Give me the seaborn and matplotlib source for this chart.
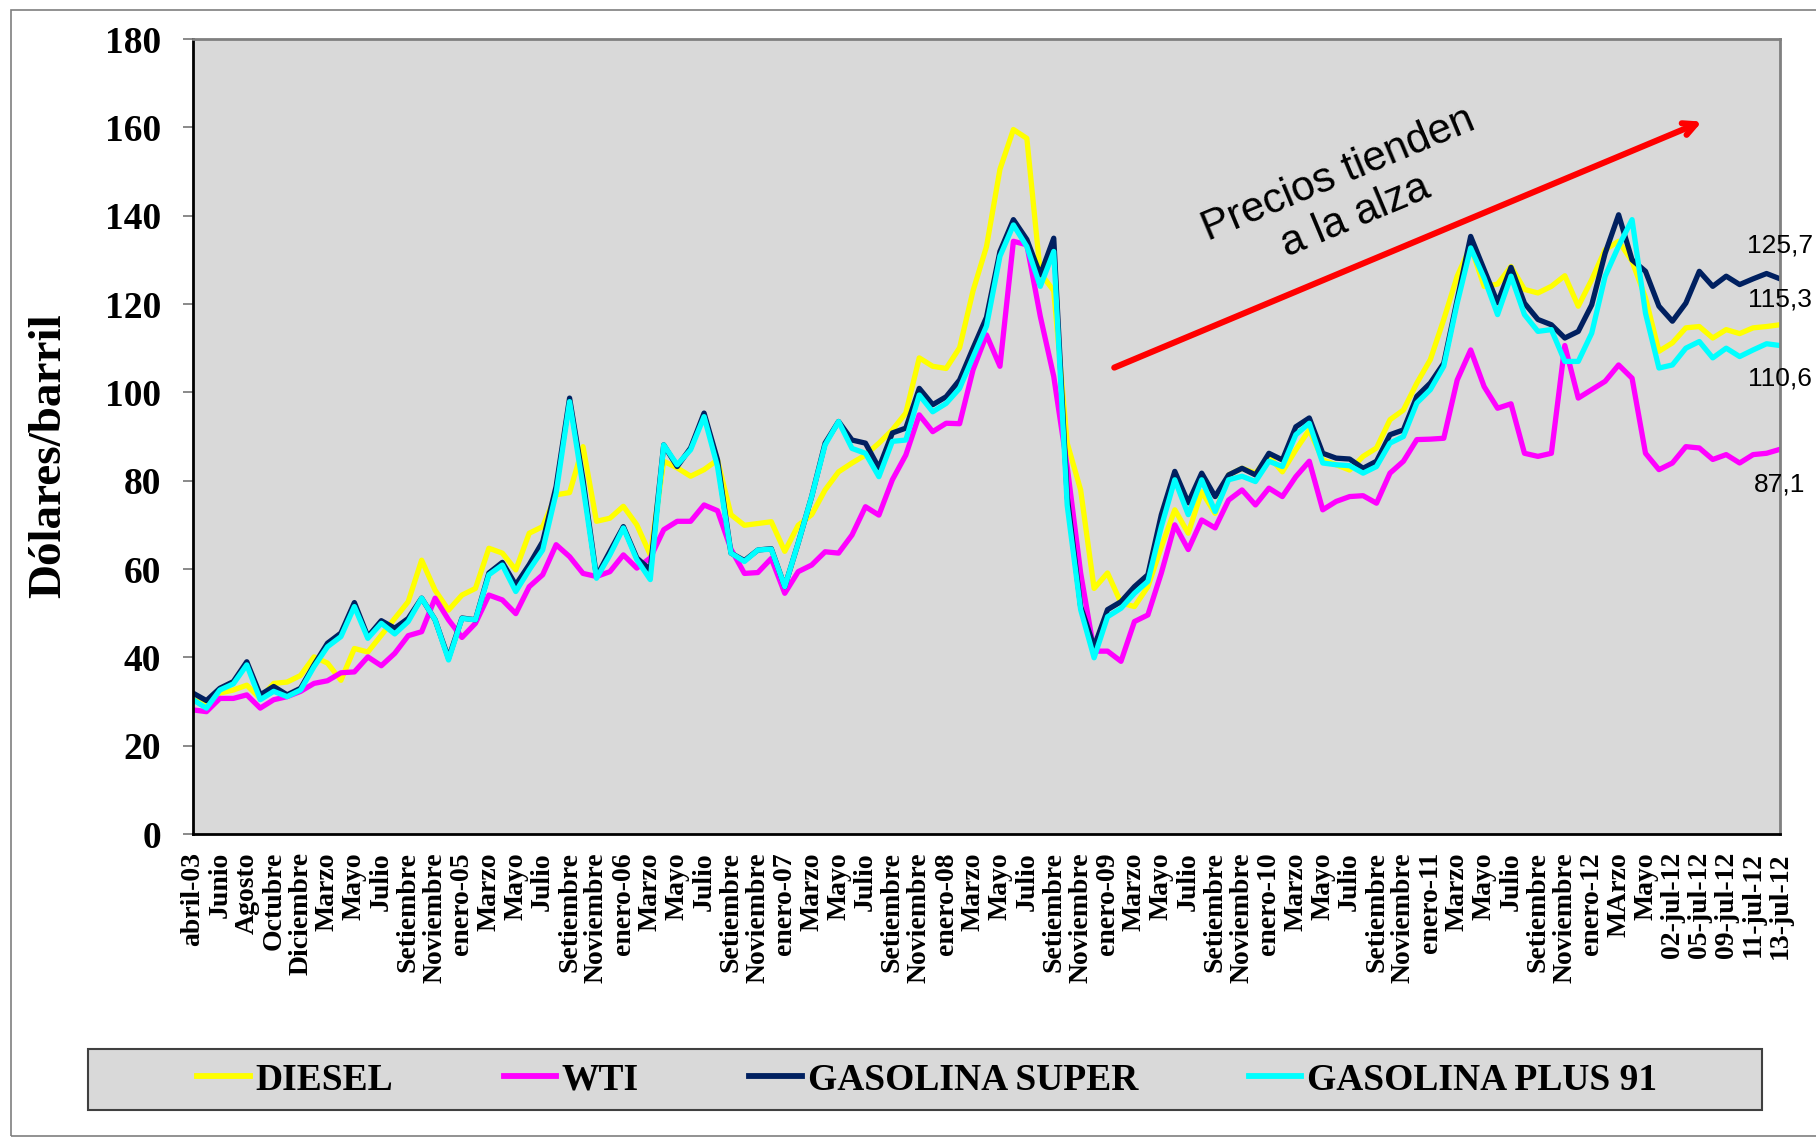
import matplotlib
matplotlib.use("Agg")
import matplotlib.pyplot as plt
import numpy as np
import pandas as pd
import seaborn as sns
from matplotlib.patches import Rectangle
from matplotlib.lines import Line2D

# ---------------- data ----------------
categories = [
    "abril-03", "Mayo", "Junio", "Julio", "Agosto", "Setiembre", "Octubre", "Noviembre", "Diciembre",
    "Febrero", "Marzo", "Abril", "Mayo", "Junio", "Julio", "Agosto", "Setiembre", "Octubre", "Noviembre", "Diciembre",
    "enero-05", "Febrero", "Marzo", "Abril", "Mayo", "Junio", "Julio", "Agosto", "Setiembre", "Octubre", "Noviembre", "Diciembre",
    "enero-06", "Febrero", "Marzo", "Abril", "Mayo", "Junio", "Julio", "Agosto", "Setiembre", "Octubre", "Noviembre", "Diciembre",
    "enero-07", "Febrero", "Marzo", "Abril", "Mayo", "Junio", "Julio", "Agosto", "Setiembre", "Octubre", "Noviembre", "Diciembre",
    "enero-08", "Febrero", "Marzo", "Abril", "Mayo", "Junio", "Julio", "Agosto", "Setiembre", "Octubre", "Noviembre", "Diciembre",
    "enero-09", "Febrero", "Marzo", "Abril", "Mayo", "Junio", "Julio", "Agosto", "Setiembre", "Octubre", "Noviembre", "Diciembre",
    "enero-10", "Febrero", "Marzo", "Abril", "Mayo", "Junio", "Julio", "Agosto", "Setiembre", "Octubre", "Noviembre", "Diciembre",
    "enero-11", "Febrero", "Marzo", "Abril", "Mayo", "Junio", "Julio", "Agosto", "Setiembre", "Octubre", "Noviembre", "Diciembre",
    "enero-12", "Febrero", "MArzo", "Abril", "Mayo", "Junio",
    "02-jul-12", "03-jul-12", "05-jul-12", "06-jul-12", "09-jul-12", "10-jul-12", "11-jul-12", "12-jul-12", "13-jul-12",
]

diesel = [
    30.4, 29.5, 31.9, 32.6, 33.7, 30.7, 34.1, 34.4, 35.9, 40.1,
    38.7, 34.8, 42.0, 41.2, 45.0, 48.8, 52.6, 62.0, 55.2, 50.7,
    54.1, 55.6, 64.7, 63.6, 59.8, 68.1, 69.6, 76.8, 77.3, 87.7,
    70.8, 71.5, 74.2, 70.0, 63.2, 84.4, 82.9, 81.0, 82.5, 84.7,
    72.3, 69.9, 70.3, 70.7, 64.0, 69.9, 72.3, 77.9, 82.0, 84.0,
    85.8, 88.5, 91.5, 95.3, 107.8, 105.9, 105.4, 110.1, 123.0, 133.0,
    150.5, 159.5, 157.5, 127.0, 123.0, 88.5, 77.9, 55.6, 59.1, 52.3,
    51.5, 56.0, 65.0, 73.4, 68.1, 77.5, 72.6, 81.3, 82.8, 81.7,
    85.5, 82.0, 87.0, 91.5, 84.7, 83.6, 82.4, 85.5, 87.4, 93.8,
    96.0, 102.1, 107.4, 116.5, 126.3, 133.1, 124.0, 124.5, 128.5, 123.3,
    122.5, 124.0, 126.4, 119.5, 125.5, 132.3, 134.2, 129.7, 121.4, 109.3,
    111.2, 114.6, 114.9, 112.3, 114.2, 113.3, 114.6, 114.9, 115.3,
]

wti = [
    28.1, 27.7, 30.7, 30.7, 31.5, 28.5, 30.4, 31.1, 32.3, 34.1,
    34.7, 36.5, 36.7, 40.1, 38.1, 40.9, 44.9, 45.8, 53.4, 48.5,
    44.5, 47.7, 54.1, 53.0, 49.9, 56.0, 58.7, 65.5, 62.8, 59.0,
    58.3, 59.4, 63.2, 60.2, 62.5, 68.9, 70.8, 70.8, 74.5, 73.2,
    64.5, 59.0, 59.2, 62.4, 54.5, 59.4, 60.9, 63.9, 63.6, 67.7,
    74.1, 72.2, 80.2, 85.8, 94.9, 91.1, 93.0, 92.9, 105.1, 113.0,
    105.9, 134.2, 133.4, 117.2, 103.6, 83.2, 59.1, 41.4, 41.4, 39.1,
    48.1, 49.6, 59.1, 70.0, 64.4, 71.1, 69.3, 75.6, 77.9, 74.5,
    78.3, 76.4, 80.9, 84.4, 73.4, 75.3, 76.4, 76.6, 74.9, 81.7,
    84.4, 89.3, 89.4, 89.6, 102.8, 109.6, 101.3, 96.4, 97.4, 86.2,
    85.5, 86.2, 110.6, 98.7, 100.6, 102.5, 106.2, 103.2, 86.2, 82.5,
    84.0, 87.7, 87.4, 84.8, 85.9, 84.0, 85.9, 86.2, 87.1,
]

gasolina_super = [
    31.9, 30.2, 33.0, 34.5, 39.0, 31.5, 33.4, 31.5, 33.0, 38.3,
    43.2, 45.5, 52.4, 44.7, 48.3, 46.6, 48.8, 53.4, 48.5, 39.8,
    48.9, 48.5, 59.1, 61.5, 56.4, 61.0, 66.2, 78.7, 98.7, 80.2,
    58.3, 64.0, 69.6, 62.5, 59.8, 88.1, 83.2, 87.4, 95.3, 84.7,
    63.6, 61.9, 64.3, 64.6, 56.0, 65.9, 76.4, 88.5, 93.4, 89.2,
    88.5, 82.9, 90.8, 91.9, 100.9, 97.2, 99.0, 102.8, 110.0, 117.0,
    131.9, 139.1, 134.6, 126.6, 134.9, 76.4, 51.5, 42.4, 50.8, 52.6,
    56.0, 58.7, 72.3, 82.1, 75.0, 81.7, 76.4, 81.3, 82.8, 81.3,
    86.2, 84.7, 92.2, 94.2, 86.2, 85.1, 84.9, 82.8, 84.4, 90.4,
    91.5, 99.1, 102.1, 106.6, 121.0, 135.3, 127.8, 120.3, 128.3, 120.2,
    116.5, 115.3, 112.3, 113.8, 119.8, 131.5, 140.2, 130.0, 127.4, 119.5,
    116.1, 120.2, 127.4, 124.0, 126.3, 124.4, 125.7, 126.9, 125.7,
]

gasolina_plus91 = [
    30.4, 28.5, 32.6, 34.0, 38.3, 30.4, 32.3, 31.1, 32.6, 37.9,
    42.4, 44.7, 51.5, 44.3, 47.7, 45.3, 48.1, 53.4, 48.5, 39.4,
    48.8, 48.5, 58.7, 60.9, 54.9, 59.8, 64.3, 77.2, 97.9, 78.7,
    57.9, 63.2, 69.3, 62.1, 57.6, 88.1, 83.6, 87.0, 94.5, 83.2,
    63.6, 61.7, 64.3, 64.5, 56.0, 65.9, 76.4, 88.1, 93.4, 87.3,
    86.2, 80.9, 88.9, 89.2, 99.4, 95.6, 97.5, 100.9, 108.0, 115.0,
    130.8, 137.9, 133.0, 124.0, 131.9, 74.4, 50.8, 39.9, 49.2, 51.1,
    54.5, 57.2, 69.6, 80.2, 72.3, 80.2, 73.0, 80.2, 81.0, 79.8,
    84.4, 83.2, 90.4, 93.0, 84.0, 83.6, 83.4, 81.7, 83.2, 88.5,
    90.0, 97.6, 100.6, 105.9, 120.2, 132.7, 125.9, 117.6, 126.3, 117.6,
    113.8, 114.2, 107.0, 107.0, 113.4, 126.3, 133.1, 139.1, 117.9, 105.5,
    106.2, 110.0, 111.5, 107.8, 110.0, 108.1, 109.6, 111.0, 110.6,
]

series_names = ["DIESEL", "WTI", "GASOLINA SUPER", "GASOLINA PLUS 91"]
series_colors = ["#FFFF00", "#FF00FF", "#002060", "#00FFFF"]
end_labels = ["115,3", "87,1", "125,7", "110,6"]
end_offsets_pt = [18, -25, 24, -24]
y_ticks = [0, 20, 40, 60, 80, 100, 120, 140, 160, 180]

# ---------------- build frame ----------------
n = len(categories)
df = pd.DataFrame({
    "idx": np.arange(n),
    "DIESEL": diesel,
    "WTI": wti,
    "GASOLINA SUPER": gasolina_super,
    "GASOLINA PLUS 91": gasolina_plus91,
}).melt(id_vars="idx", var_name="serie", value_name="valor")

W, H = 1816, 1139
fig = plt.figure(figsize=(W / 100, H / 100), dpi=100)
fig.patch.set_facecolor("white")

# outer chart frame
fig.patches.append(Rectangle((11 / W, 1 - 1136 / H), (W + 20) / W, (1136 - 10) / H,
                             transform=fig.transFigure, fill=False,
                             edgecolor="#7f7f7f", linewidth=1.2))

L, R, T, B = 193, 1780, 39, 834
ax = fig.add_axes([L / W, 1 - B / H, (R - L) / W, (B - T) / H])
ax.set_facecolor("#D9D9D9")

palette = dict(zip(series_names, series_colors))
sns.lineplot(data=df, x="idx", y="valor", hue="serie", hue_order=series_names,
             palette=palette, linewidth=3.8, ax=ax, legend=False,
             estimator=None, sort=False)

ax.set_xlim(0, n - 1)
ax.set_ylim(0, 180)
ax.set_xlabel("")
ax.set_ylabel("")

serif = "Liberation Serif"
sans = "Liberation Sans"

ax.set_yticks(y_ticks)
ax.set_yticklabels([str(v) for v in y_ticks], fontfamily=serif,
                   fontweight="bold", fontsize=27)
ax.tick_params(axis="y", direction="out", length=7, width=1.3,
               color="#808080", pad=16)

xt = list(range(0, n, 2))
ax.set_xticks(xt)
ax.set_xticklabels([categories[i] for i in xt], rotation=90, fontfamily=serif,
                   fontweight="bold", fontsize=20, ha="center", va="top")
ax.tick_params(axis="x", length=0, pad=13)

for side in ["left", "bottom"]:
    ax.spines[side].set_color("black")
    ax.spines[side].set_linewidth(2)
for side in ["top", "right"]:
    ax.spines[side].set_color("#808080")
    ax.spines[side].set_linewidth(2)
ax.grid(False)

# end-of-series value labels
series_lists = [diesel, wti, gasolina_super, gasolina_plus91]
for vals, lab, dy in zip(series_lists, end_labels, end_offsets_pt):
    ax.annotate(lab, xy=(n - 1, vals[-1]), xytext=(0, dy), textcoords="offset points",
                ha="center", va="center", fontfamily=sans, fontsize=19,
                color="black", annotation_clip=False)

# trend arrow and text
ax.annotate("", xy=(112.2, 161.3), xytext=(68.5, 105.6),
            arrowprops=dict(arrowstyle="->,head_length=0.9,head_width=0.45",
                            color="#FF0000", lw=4.4, shrinkA=0, shrinkB=0))
ax.text(85.8, 144.6, "Precios tienden\na la alza", rotation=22.7,
        rotation_mode="anchor", ha="center", va="center", multialignment="center",
        fontfamily=sans, fontsize=30.5, color="black")

# y axis title
fig.text(49 / W, 1 - 456 / H, "Dólares/barril", rotation=90, ha="center", va="center",
         fontfamily=serif, fontweight="bold", fontsize=34)

# legend box
fig.patches.append(Rectangle((88 / W, 1 - 1110 / H), (1762 - 88) / W, (1110 - 1049) / H,
                             transform=fig.transFigure, facecolor="#D9D9D9",
                             edgecolor="#404040", linewidth=1.5))
handles = [Line2D([0], [0], color=c, lw=4.2) for c in series_colors]
leg = fig.legend(handles, series_names, loc="center", bbox_to_anchor=(927 / W, 1 - 1080 / H),
                 ncol=4, frameon=False, handlelength=1.4, handletextpad=0.15,
                 columnspacing=2.95,
                 prop=dict(family=serif, weight="bold", size=27))

fig.savefig("out.png", dpi=100, facecolor="white")
